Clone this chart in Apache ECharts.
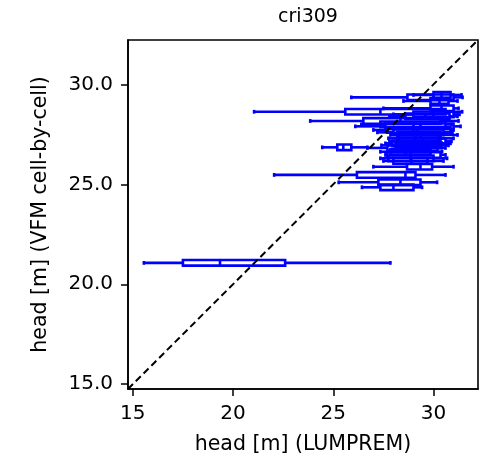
<!DOCTYPE html>
<html>
<head>
<meta charset="utf-8">
<script src="https://cdn.jsdelivr.net/npm/echarts@6/dist/echarts.min.js"></script>
<style>html,body{margin:0;padding:0;background:#fff}#c{width:491px;height:465px}</style>
</head>
<body>
<div id="c"></div>
<script>
// y position (VFM head) of each box, and LUMPREM head statistics
const rowY      = [29.35, 29.47, 29.17, 28.8, 28.63, 28.5, 28.4, 28.17, 28.0, 27.9, 27.72, 27.6, 27.47, 27.3, 27.15, 27.05, 26.95, 26.85, 26.82, 26.63, 26.47, 26.3, 26.17, 25.88, 25.47, 25.1, 24.85, 21.07];
const whiskerLo = [25.9, 29.0, 28.5, 27.5, 21.05, 28.0, 27.8, 23.85, 26.4, 26.1, 27.0, 27.2, 27.85, 27.75, 27.8, 27.6, 27.4, 24.45, 26.7, 27.35, 27.6, 27.35, 27.5, 27.0, 22.05, 25.27, 26.43, 15.55];
const q1        = [28.7, 30.0, 29.85, 29.85, 25.6, 29.0, 28.6, 26.5, 27.35, 27.6, 27.7, 28.0, 28.2, 28.25, 28.2, 27.95, 28.1, 25.2, 27.7, 27.85, 27.7, 27.75, 28.0, 28.68, 26.18, 27.25, 27.35, 17.5];
const median    = [30.0, 30.4, 30.3, 30.4, 27.35, 30.0, 29.6, 28.35, 29.0, 29.35, 29.2, 29.0, 29.35, 29.1, 29.5, 29.0, 29.2, 25.5, 28.85, 28.6, 28.85, 28.85, 28.9, 29.35, 28.6, 28.35, 28.0, 19.35];
const q3        = [31.0, 30.85, 30.75, 31.0, 30.6, 31.0, 30.8, 30.35, 30.6, 31.0, 30.85, 30.5, 30.35, 30.25, 30.6, 30.35, 30.4, 25.9, 30.2, 29.85, 30.35, 30.0, 29.7, 29.93, 29.1, 29.35, 29.0, 22.6];
const whiskerHi = [31.45, 31.4, 31.2, 31.25, 31.43, 31.3, 31.2, 31.25, 30.9, 31.35, 31.0, 30.95, 31.2, 31.0, 30.9, 30.85, 30.75, 26.7, 30.6, 30.43, 30.6, 30.68, 30.5, 31.0, 30.6, 30.18, 29.43, 27.85];
const axisMin = 14.76, axisMax = 32.22;
const xTicks = [15, 20, 25, 30];
const yTicks = [15, 20, 25, 30];

const boxData = rowY.map((y, i) => [y, whiskerLo[i], q1[i], median[i], q3[i], whiskerHi[i]]);
const BLUE = '#0000ff';
const halfH = 0.14; // box half-height in data units

function renderBox(params, api) {
  const y = api.value(0);
  const lo = api.coord([api.value(1), y]);
  const a = api.coord([api.value(2), y]);
  const m = api.coord([api.value(3), y]);
  const b = api.coord([api.value(4), y]);
  const hi = api.coord([api.value(5), y]);
  const top = api.coord([api.value(2), y + halfH])[1];
  const bot = api.coord([api.value(2), y - halfH])[1];
  const capTop = api.coord([api.value(2), y + halfH / 2])[1];
  const capBot = api.coord([api.value(2), y - halfH / 2])[1];
  const st = {stroke: BLUE, lineWidth: 2.6, fill: null};
  return {
    type: 'group',
    children: [
      {type: 'line', shape: {x1: lo[0], y1: lo[1], x2: a[0], y2: a[1]}, style: st},
      {type: 'line', shape: {x1: b[0], y1: b[1], x2: hi[0], y2: hi[1]}, style: st},
      {type: 'line', shape: {x1: lo[0], y1: capTop - 0.5, x2: lo[0], y2: capBot + 0.5}, style: st},
      {type: 'line', shape: {x1: hi[0], y1: capTop - 0.5, x2: hi[0], y2: capBot + 0.5}, style: st},
      {type: 'rect', shape: {x: a[0], y: top, width: b[0] - a[0], height: bot - top}, style: {stroke: BLUE, lineWidth: 2.6, fill: 'rgba(0,0,0,0)'}},
      {type: 'line', shape: {x1: m[0], y1: top, x2: m[0], y2: bot}, style: st}
    ]
  };
}

const chart = echarts.init(document.getElementById('c'), null, {renderer: 'canvas'});
const FONT = 'DejaVu Sans';
const axisCommon = {
  type: 'value', min: axisMin, max: axisMax,
  axisLine: {show: true, onZero: false, lineStyle: {color: '#000', width: 1.6}},
  splitLine: {show: false},
  nameLocation: 'middle',
  nameTextStyle: {fontFamily: FONT, fontSize: 20.5, color: '#000'}
};
chart.setOption({
  animation: false,
  backgroundColor: '#fff',
  title: {text: 'cri309', left: 303, top: 3, textAlign: 'center',
    textStyle: {fontFamily: FONT, fontSize: 19, fontWeight: 'normal', color: '#000'}},
  grid: {left: 128, right: 13, top: 40, bottom: 76, show: true, borderColor: '#000', borderWidth: 1.6, backgroundColor: 'transparent'},
  xAxis: Object.assign({}, axisCommon, {
    name: 'head [m] (LUMPREM)', nameGap: 45,
    axisTick: {show: true, length: 7, customValues: xTicks, lineStyle: {color: '#000', width: 1.5}},
    axisLabel: {customValues: xTicks, margin: 15, fontFamily: FONT, fontSize: 20, color: '#000',
      formatter: v => String(v)}
  }),
  yAxis: Object.assign({}, axisCommon, {
    name: 'head [m] (VFM cell-by-cell)', nameGap: 77,
    axisTick: {show: true, length: 7, customValues: yTicks, lineStyle: {color: '#000', width: 1.5}},
    axisLabel: {customValues: yTicks, margin: 15, fontFamily: FONT, fontSize: 20, color: '#000',
      formatter: v => v.toFixed(1)}
  }),
  series: [
    {
      type: 'custom',
      renderItem: renderBox,
      data: boxData,
      encode: {x: [1, 2, 3, 4, 5], y: 0},
      clip: true,
      z: 2
    },
    {
      type: 'line',
      data: [[axisMin, axisMin], [axisMax, axisMax]],
      symbol: 'none',
      lineStyle: {color: '#000', width: 2, type: [7, 4]},
      z: 3
    }
  ]
});
</script>
</body>
</html>
